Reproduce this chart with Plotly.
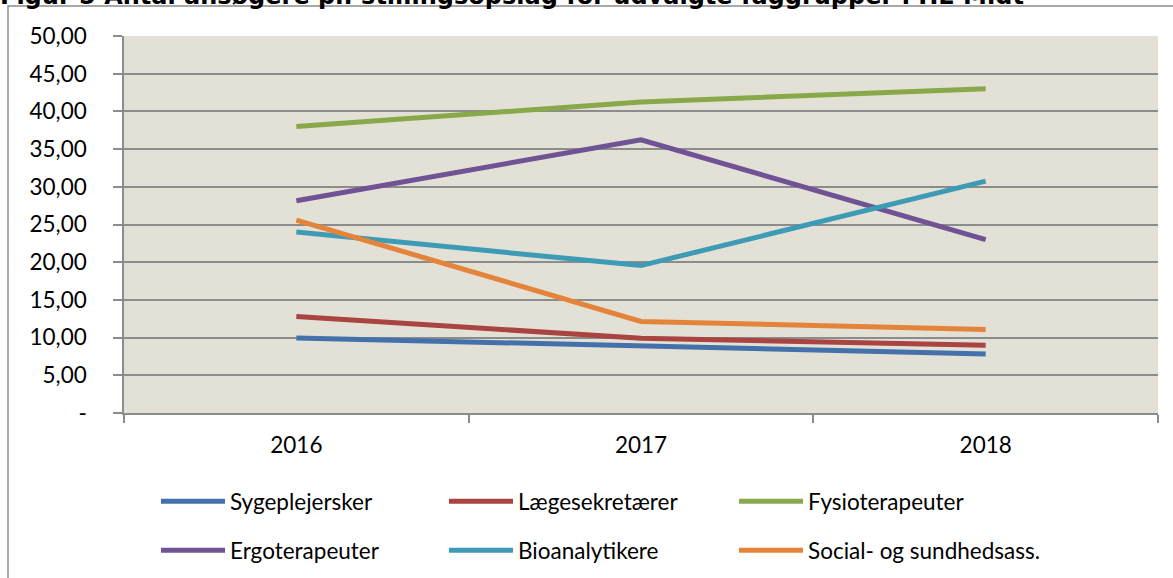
import plotly.graph_objects as go

title = "Figur 5 Antal ansøgere pr. stillingsopslag for udvalgte faggrupper i HE Midt"
years = ["2016", "2017", "2018"]

sygeplejersker = [9.96, 8.90, 7.83]
laegesekretaerer = [12.80, 9.91, 9.00]
fysioterapeuter = [38.00, 41.25, 43.00]
ergoterapeuter = [28.14, 36.24, 23.00]
bioanalytikere = [24.00, 19.55, 30.75]
social_sundhed = [25.58, 12.15, 11.06]

series_names = ["Sygeplejersker", "Lægesekretærer", "Fysioterapeuter",
                "Ergoterapeuter", "Bioanalytikere", "Social- og sundhedsass."]
series_values = [sygeplejersker, laegesekretaerer, fysioterapeuter,
                 ergoterapeuter, bioanalytikere, social_sundhed]
colors = ["#4471AB", "#A94442", "#88A84A", "#6F5395", "#3E9BB6", "#E3843A"]

y_tickvals = [0, 5, 10, 15, 20, 25, 30, 35, 40, 45, 50]
y_ticktext = ["-", "5,00", "10,00", "15,00", "20,00", "25,00", "30,00",
              "35,00", "40,00", "45,00", "50,00"]

FONT = "Lato"
FS = 22.5
W, H = 1173, 578
L, R, T, B = 124, 15, 36, 165
pw, ph = W - L - R, H - T - B

def px_x(p):
    return (p - L) / pw

def px_y(p):
    return (H - B - p) / ph

# legend grid: 3 columns x 2 rows (pixel anchors)
legend_cols_px = [156, 444, 734]
legend_rows_px = [480, 529]

fig = go.Figure()
layout_legends = {}
for i, (name, vals, c) in enumerate(zip(series_names, series_values, colors)):
    lg = "legend" if i == 0 else f"legend{i + 1}"
    fig.add_trace(go.Scatter(x=years, y=vals, name=name, mode="lines",
                             line=dict(color=c, width=5), legend=lg))
    layout_legends[lg] = dict(
        x=px_x(legend_cols_px[i % 3]), y=px_y(legend_rows_px[i // 3]),
        xanchor="left", yanchor="top", orientation="h",
        font=dict(family=FONT, size=FS, color="black"),
        bgcolor="rgba(0,0,0,0)", itemwidth=64)

# outer chart border (extends beyond right/bottom edge like the reference crop)
fig.add_shape(type="rect", xref="paper", yref="paper",
              x0=px_x(8), x1=px_x(1190), y0=px_y(6), y1=px_y(600),
              line=dict(color="#8C8C8C", width=1.5), layer="below")

# title, cropped at the top edge as in the reference
fig.add_annotation(text="<b>" + title + "</b>", xref="paper", yref="paper",
                   x=px_x(-2), y=px_y(-4), xanchor="left", yanchor="middle",
                   showarrow=False,
                   font=dict(family="DejaVu Sans", size=24, color="black"))

fig.update_layout(
    width=W, height=H,
    margin=dict(l=L, r=R, t=T, b=B, pad=0, autoexpand=False),
    paper_bgcolor="white",
    plot_bgcolor="#E3E0D6",
    font=dict(family=FONT, size=FS, color="black"),
    showlegend=True,
    xaxis=dict(type="category", tickson="boundaries", ticks="outside", ticklen=8,
               tickcolor="#8C8C8C", tickwidth=1.5, showgrid=False,
               showline=True, linecolor="#8C8C8C", linewidth=1.5,
               range=[-0.5, 2.5], ticklabelstandoff=11,
               tickfont=dict(family=FONT, size=FS)),
    yaxis=dict(range=[0, 50], tickvals=y_tickvals, ticktext=y_ticktext,
               ticks="outside", ticklen=9, tickcolor="#8C8C8C", tickwidth=1.5,
               showgrid=True, gridcolor="#8C8C8C", gridwidth=1.5,
               showline=True, linecolor="#8C8C8C", linewidth=1.5,
               zeroline=False, ticklabelstandoff=22,
               tickfont=dict(family=FONT, size=FS)),
    **layout_legends,
)

fig.write_html("out.html", config={"displayModeBar": False},
               post_script="document.body.style.margin='0';document.body.style.padding='0';")
